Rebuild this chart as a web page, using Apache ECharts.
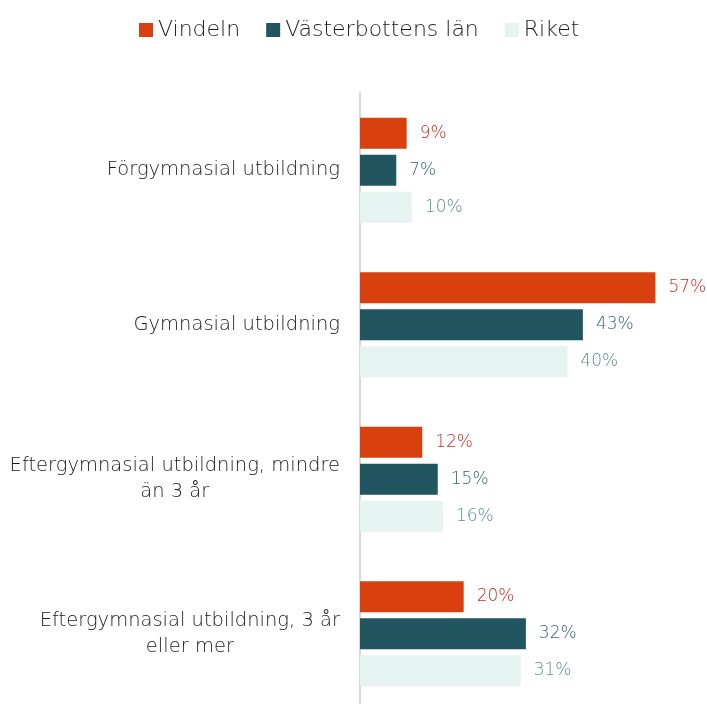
<!DOCTYPE html>
<html><head><meta charset="utf-8">
<script src="https://cdn.jsdelivr.net/npm/echarts@6/dist/echarts.min.js"></script>
<style>html,body{margin:0;padding:0;background:#fff}#c{width:707px;height:704px}</style>
</head><body><div id="c"></div>
<script>
const categories = ["Förgymnasial utbildning", "Gymnasial utbildning", "Eftergymnasial utbildning, mindre\nän 3 år", "Eftergymnasial utbildning, 3 år\neller mer"];
const seriesNames = ["Vindeln", "Västerbottens län", "Riket"];
const vindeln = [9, 57, 12, 20];
const vasterbotten = [7, 43, 15, 32];
const riket = [10, 40, 16, 31];

const barColors = ["#D8400F", "#21555F", "#E5F4F1"];
const labelColors = ["#C92A24", "#3A646C", "#5E8E95"];
const FONT = "DejaVu Sans";
const W = 200;
const values = [vindeln, vasterbotten, riket];

const chart = echarts.init(document.getElementById('c'), null, {renderer: 'canvas'});
chart.setOption({
  animation: false,
  textStyle: {fontFamily: FONT},
  legend: {
    top: 14, left: 134,
    itemWidth: 14, itemHeight: 14, itemGap: 26,
    icon: 'rect',
    textStyle: {fontSize: 22, color: '#1a1a1a', fontFamily: FONT, fontWeight: W},
    data: seriesNames
  },
  grid: {left: 360, right: 36, top: 93, height: 618, outerBoundsMode: 'none', containLabel: false},
  xAxis: {type: 'value', min: 0, max: 60, show: false},
  yAxis: {
    type: 'category', inverse: true, data: categories,
    axisTick: {show: false},
    axisLine: {show: true, lineStyle: {color: '#D9D9D9', width: 2}},
    axisLabel: {
      margin: 20,
      formatter: v => v.split('\n').map(s => '{a|' + s + '}').join('\n'),
      rich: {a: {align: 'center', fontSize: 19.5, color: '#1a1a1a', fontFamily: FONT, fontWeight: W, lineHeight: 26}}
    }
  },
  series: seriesNames.map((n, i) => ({
    name: n, type: 'bar', data: values[i],
    barGap: '19%', barCategoryGap: '32%',
    itemStyle: {color: barColors[i]},
    label: {show: true, position: 'right', distance: 13, formatter: '{c}%', fontSize: 17, color: labelColors[i], fontFamily: FONT, fontWeight: W}
  }))
});
</script></body></html>
